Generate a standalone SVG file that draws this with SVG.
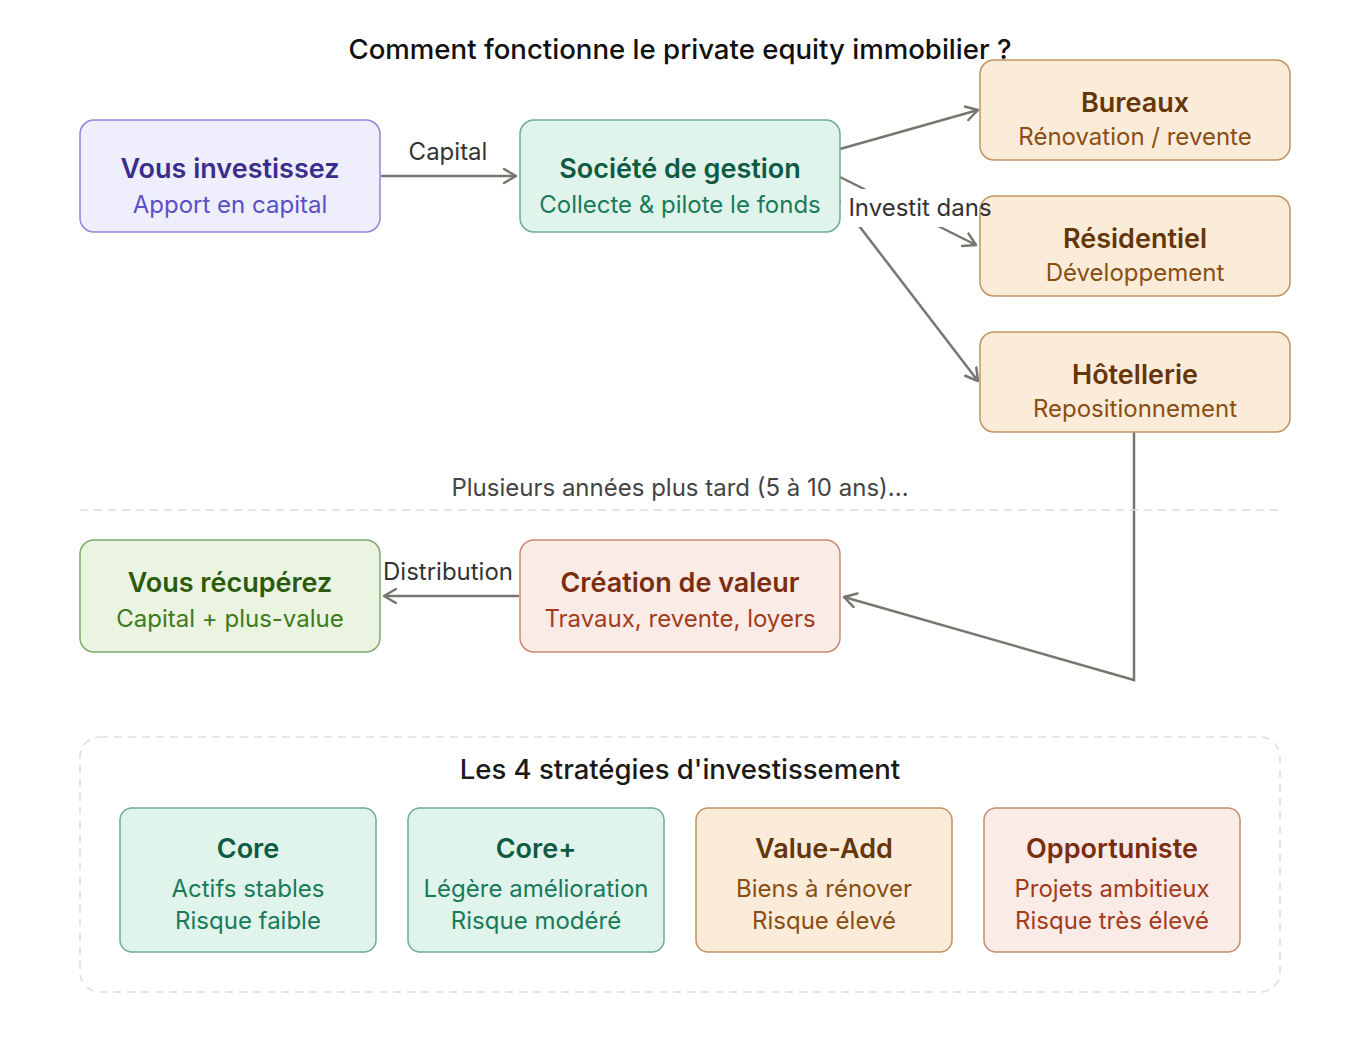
<svg xmlns="http://www.w3.org/2000/svg" width="1360" height="1040" viewBox="0 0 1360 1040">
<defs>
<marker id="arr" markerUnits="userSpaceOnUse" markerWidth="16" markerHeight="18" refX="13" refY="8" orient="auto">
<path d="M1,1 L13,8 L1,15" fill="none" stroke="#77776f" stroke-width="2.5" stroke-linecap="round" stroke-linejoin="round"/>
</marker>
<style>
text{font-family:Inter,"Noto Sans","Liberation Sans",sans-serif;text-anchor:middle}
.t{font-size:27px;font-weight:600}
.s{font-size:24px}
.lbl{font-size:24px;fill:#333}
.e{fill:none;stroke:#77776f;stroke-width:2.5}
.purple rect{fill:#eeeefd;stroke:#8f85dc;stroke-width:1.5}
.purple .t{fill:#3a2e8c}.purple .s{fill:#5a4fc4}
.green rect{fill:#e1f4ec;stroke:#6aae94;stroke-width:1.5}
.green .t{fill:#0e5a42}.green .s{fill:#187a5a}
.orange rect{fill:#fbecd9;stroke:#c29460;stroke-width:1.5}
.orange .t{fill:#653609}.orange .s{fill:#8a4e12}
.lime rect{fill:#eaf4e0;stroke:#7fab66;stroke-width:1.5}
.lime .t{fill:#2c5a0c}.lime .s{fill:#3e7a1c}
.red rect{fill:#fbebe6;stroke:#c98a73;stroke-width:1.5}
.red .t{fill:#7a2d0f}.red .s{fill:#a13c1c}
</style>
</defs>
<rect width="1360" height="1040" fill="#ffffff"/>
<text x="680" y="59" style="font-size:27.6px;font-weight:500;fill:#111">Comment fonctionne le private equity immobilier ?</text>

<g id="edges">
<line class="e" x1="381" y1="176" x2="516" y2="176" marker-end="url(#arr)"/>
<line class="e" x1="840" y1="149" x2="978" y2="110" marker-end="url(#arr)"/>
<line class="e" x1="840" y1="177" x2="976" y2="245" marker-end="url(#arr)"/>
<line class="e" x1="840" y1="201" x2="978" y2="381" marker-end="url(#arr)"/>
<polyline class="e" points="1134,432 1134,680 844,597" marker-end="url(#arr)"/>
<line class="e" x1="519" y1="596" x2="384" y2="596" marker-end="url(#arr)"/>
<rect x="841" y="189" width="137" height="38" fill="#ffffff"/>
<text class="lbl" x="448" y="160">Capital</text>
<text class="lbl" x="448" y="580">Distribution</text>
</g>

<g id="n-invest" class="purple"><rect x="80" y="120" width="300" height="112" rx="14"/><text class="t" x="230" y="178">Vous investissez</text><text class="s" x="230" y="213">Apport en capital</text></g>
<g id="n-societe" class="green"><rect x="520" y="120" width="320" height="112" rx="14"/><text class="t" x="680" y="178">Société de gestion</text><text class="s" x="680" y="213">Collecte &amp; pilote le fonds</text></g>
<g id="n-bureaux" class="orange"><rect x="980" y="60" width="310" height="100" rx="14"/><text class="t" x="1135" y="112">Bureaux</text><text class="s" x="1135" y="145">Rénovation / revente</text></g>
<g id="n-resid" class="orange"><rect x="980" y="196" width="310" height="100" rx="14"/><text class="t" x="1135" y="248">Résidentiel</text><text class="s" x="1135" y="281">Développement</text></g>
<g id="n-hotel" class="orange"><rect x="980" y="332" width="310" height="100" rx="14"/><text class="t" x="1135" y="384">Hôtellerie</text><text class="s" x="1135" y="417">Repositionnement</text></g>

<text id="edge-label-invest" class="lbl" x="920" y="216">Investit dans</text>

<text x="680" y="496" style="font-size:24px;fill:#444">Plusieurs années plus tard (5 à 10 ans)...</text>
<line x1="80" y1="510" x2="1280" y2="510" stroke="#dddddd" stroke-width="1.5" stroke-dasharray="8 6"/>

<g id="n-recup" class="lime"><rect x="80" y="540" width="300" height="112" rx="14"/><text class="t" x="230" y="592">Vous récupérez</text><text class="s" x="230" y="627">Capital + plus-value</text></g>
<g id="n-creation" class="red"><rect x="520" y="540" width="320" height="112" rx="14"/><text class="t" x="680" y="592">Création de valeur</text><text class="s" x="680" y="627">Travaux, revente, loyers</text></g>

<g id="strategies">
<rect x="80" y="737" width="1200" height="255" rx="20" fill="none" stroke="#dddddd" stroke-width="1.5" stroke-dasharray="8 6"/>
<text x="680" y="779" style="font-size:27.5px;font-weight:500;fill:#1a1a1a">Les 4 stratégies d'investissement</text>
</g>
<g id="n-core" class="green"><rect x="120" y="808" width="256" height="144" rx="12"/><text class="t" x="248" y="858">Core</text><text class="s" x="248" y="897">Actifs stables</text><text class="s" x="248" y="929">Risque faible</text></g>
<g id="n-coreplus" class="green"><rect x="408" y="808" width="256" height="144" rx="12"/><text class="t" x="536" y="858">Core+</text><text class="s" x="536" y="897">Légère amélioration</text><text class="s" x="536" y="929">Risque modéré</text></g>
<g id="n-valueadd" class="orange"><rect x="696" y="808" width="256" height="144" rx="12"/><text class="t" x="824" y="858">Value-Add</text><text class="s" x="824" y="897">Biens à rénover</text><text class="s" x="824" y="929">Risque élevé</text></g>
<g id="n-opport" class="red"><rect x="984" y="808" width="256" height="144" rx="12"/><text class="t" x="1112" y="858">Opportuniste</text><text class="s" x="1112" y="897">Projets ambitieux</text><text class="s" x="1112" y="929">Risque très élevé</text></g>
</svg>
